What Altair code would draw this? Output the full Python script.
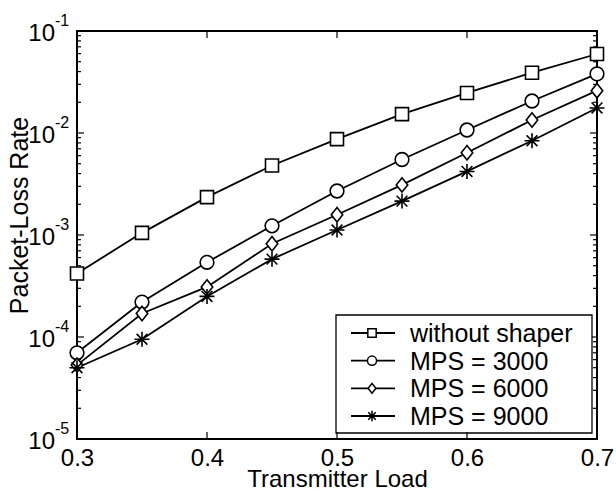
import altair as alt
import pandas as pd

# ---------------- data ----------------
load = [0.3, 0.35, 0.4, 0.45, 0.5, 0.55, 0.6, 0.65, 0.7]
series_names = ["without shaper", "MPS = 3000", "MPS = 6000", "MPS = 9000"]
without_shaper = [4.2e-4, 1.05e-3, 2.35e-3, 4.8e-3, 8.7e-3, 1.53e-2, 2.47e-2, 3.9e-2, 5.95e-2]
mps_3000 = [7.0e-5, 2.2e-4, 5.4e-4, 1.23e-3, 2.7e-3, 5.5e-3, 1.07e-2, 2.06e-2, 3.8e-2]
mps_6000 = [5.3e-5, 1.7e-4, 3.1e-4, 8.2e-4, 1.58e-3, 3.1e-3, 6.4e-3, 1.34e-2, 2.6e-2]
mps_9000 = [5.0e-5, 9.5e-5, 2.5e-4, 5.8e-4, 1.12e-3, 2.15e-3, 4.2e-3, 8.4e-3, 1.76e-2]

x_ticks = [0.3, 0.4, 0.5, 0.6, 0.7]
y_ticks = [1e-5, 1e-4, 1e-3, 1e-2, 1e-1]
y_exponents = ["-5", "-4", "-3", "-2", "-1"]
minor_multipliers = [2, 3, 4, 5, 6, 7, 8, 9]
minor_decades = [-5, -4, -3, -2]

rows = []
for name, vals in zip(series_names, [without_shaper, mps_3000, mps_6000, mps_9000]):
    for xv, yv in zip(load, vals):
        rows.append({"load": xv, "rate": yv, "series": name})
df = pd.DataFrame(rows)

minor_vals = [m * 10.0 ** e for e in minor_decades for m in minor_multipliers]

# ---------------- styling ----------------
W, H = 520, 408
FONT = "Liberation Sans"
xscale = alt.Scale(domain=[0.3, 0.7], nice=False, zero=False)
yscale = alt.Scale(type="log", domain=[1e-5, 1e-1], nice=False)

DIAMOND = "M0,-1L0.8,0L0,1L-0.8,0Z"
STAR = "M0,-1L0,1M-1,0L1,0M-0.72,-0.72L0.72,0.72M-0.72,0.72L0.72,-0.72"
shape_scale = alt.Scale(domain=series_names, range=["square", "circle", DIAMOND, STAR])

x_axis = alt.Axis(
    values=x_ticks, format=".1f", ticks=False, tickSize=0, domain=False, grid=False,
    labelFontSize=24, labelFont=FONT, labelColor="black", labelPadding=26,
    labelBaseline="alphabetic", labelFlush=False, labelOverlap=False,
    title="Transmitter Load", titleFont=FONT, titleFontSize=24, titleFontWeight="normal",
    titleColor="black", titleX=W / 2, titleY=47, titleAlign="center", titleBaseline="alphabetic",
)
y_axis = alt.Axis(
    labels=False, ticks=False, tickSize=0, domain=False, grid=False,
    title="Packet-Loss Rate", titleFont=FONT, titleFontSize=25, titleFontWeight="normal",
    titleColor="black", titleAngle=270, titleX=-50, titleY=184, titleAlign="center",
    titleBaseline="alphabetic",
)


def X(field):
    return alt.X(field, scale=xscale, axis=x_axis)


def Y(field):
    return alt.Y(field, scale=yscale, axis=y_axis)


lines = alt.Chart(df).mark_line(color="black", strokeWidth=1.8).encode(
    x=X("load:Q"), y=Y("rate:Q"), detail="series:N",
)
points = alt.Chart(df).mark_point(
    fill="white", stroke="black", strokeWidth=1.6, opacity=1, fillOpacity=1
).encode(
    x=X("load:Q"), y=Y("rate:Q"),
    shape=alt.Shape("series:N", scale=shape_scale, legend=None),
    size=alt.Size("series:N", scale=alt.Scale(domain=series_names, range=[169, 225, 324, 196]), legend=None),
)

xt = pd.DataFrame({"tx": x_ticks})
yt = pd.DataFrame({"ty": y_ticks, "exp": y_exponents})
ym = pd.DataFrame({"tm": minor_vals})

tick_style = dict(color="black", strokeWidth=1.2)
x_top_ticks = alt.Chart(xt).mark_rule(**tick_style).encode(
    x=X("tx:Q"), y=alt.value(0), y2=alt.value(7))
y_left_ticks = alt.Chart(yt).mark_rule(**tick_style).encode(
    y=Y("ty:Q"), x=alt.value(0), x2=alt.value(7))
y_right_ticks = alt.Chart(yt).mark_rule(**tick_style).encode(
    y=Y("ty:Q"), x=alt.value(W - 7), x2=alt.value(W))
y_left_minor = alt.Chart(ym).mark_rule(**tick_style).encode(
    y=Y("tm:Q"), x=alt.value(0), x2=alt.value(4))
y_right_minor = alt.Chart(ym).mark_rule(**tick_style).encode(
    y=Y("tm:Q"), x=alt.value(W - 4), x2=alt.value(W))

ten_labels = alt.Chart(yt).mark_text(
    align="right", baseline="alphabetic", dy=10, fontSize=24, font=FONT, color="black"
).encode(x=alt.value(-22), y=Y("ty:Q"), text=alt.value("10"))
exp_labels = alt.Chart(yt).mark_text(
    align="left", baseline="alphabetic", dy=-5, fontSize=16, font=FONT, color="black"
).encode(x=alt.value(-22), y=Y("ty:Q"), text="exp:N")

main = alt.layer(x_top_ticks, y_left_ticks, y_right_ticks, y_left_minor, y_right_minor,
                 lines, points, ten_labels, exp_labels)

# ---------------- legend (drawn by hand) ----------------
leg_df = pd.DataFrame({"series": series_names})
ly = alt.Y("series:N", sort=series_names,
           scale=alt.Scale(type="point", domain=series_names, range=[302, 385], padding=0),
           axis=None)
box = alt.Chart(pd.DataFrame({"k": [0]})).mark_rect(
    fill="white", stroke="black", strokeWidth=1.3
).encode(x=alt.value(259), x2=alt.value(515), y=alt.value(284), y2=alt.value(402))
leg_rules = alt.Chart(leg_df).mark_rule(color="black", strokeWidth=1.8).encode(
    x=alt.value(274), x2=alt.value(318), y=ly)
leg_points = alt.Chart(leg_df).mark_point(
    fill="white", stroke="black", strokeWidth=1.5, opacity=1, fillOpacity=1
).encode(
    x=alt.value(295), y=ly,
    shape=alt.Shape("series:N", scale=shape_scale, legend=None),
    size=alt.Size("series:N", scale=alt.Scale(domain=series_names, range=[70, 110, 160, 110]), legend=None),
)
leg_text = alt.Chart(leg_df).mark_text(
    align="left", baseline="middle", dy=1, fontSize=25, font=FONT, color="black"
).encode(x=alt.value(333), y=ly, text="series:N")
legend = alt.layer(box, leg_rules, leg_points, leg_text)

x_bottom_ticks = alt.Chart(xt).mark_rule(**tick_style).encode(
    x=X("tx:Q"), y=alt.value(H - 7), y2=alt.value(H))

chart = alt.layer(main, legend, x_bottom_ticks).resolve_scale(
    y="independent", size="independent"
).properties(
    width=W, height=H,
    autosize=alt.AutoSizeParams(type="none"),
    padding={"left": 77, "top": 31, "right": 19, "bottom": 52},
).configure_view(stroke="black", strokeWidth=2)

chart.save("out.html", embed_options={"renderer": "svg", "actions": False})
